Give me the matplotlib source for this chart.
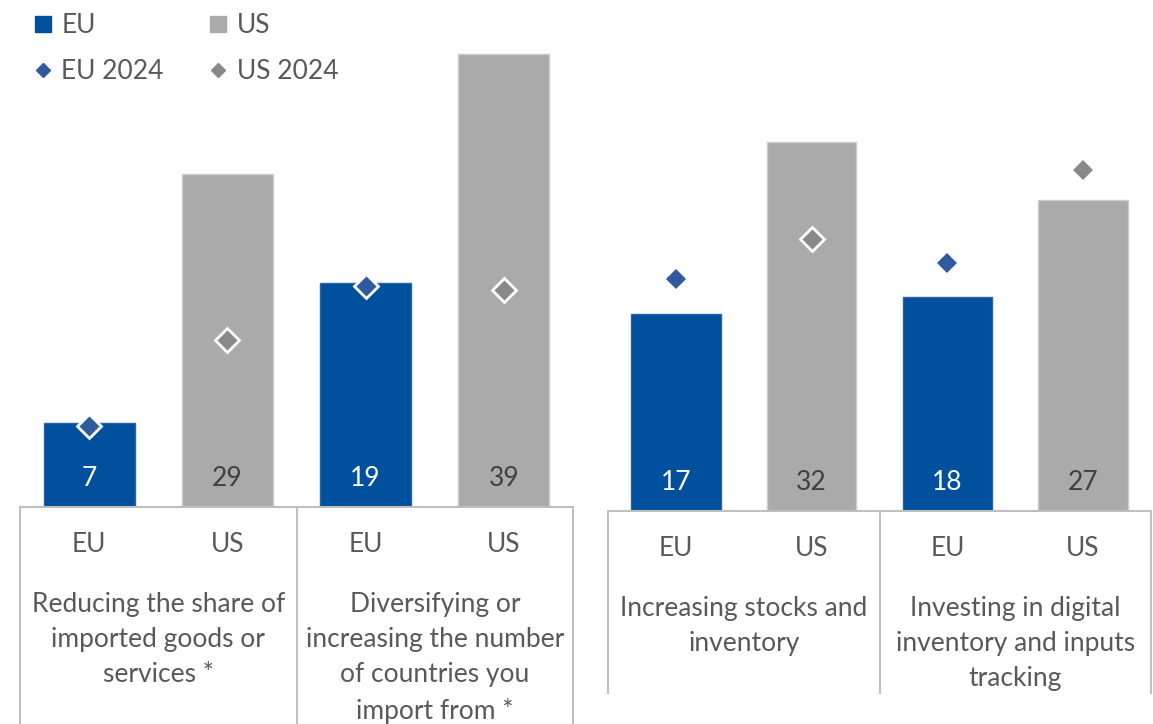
import matplotlib.pyplot as plt
from matplotlib.lines import Line2D

# values (bar heights as drawn, labels as printed)
groups = ['EU', 'US', 'EU', 'US']
left_bars = [7.3, 28.8, 19.4, 39.2]
left_labels = [7, 29, 19, 39]
left_2024 = [7.0, 14.5, 19.1, 18.8]
right_bars = [17.1, 32.0, 18.6, 27.0]
right_labels = [17, 32, 18, 27]
right_2024 = [20.1, 23.6, 21.5, 29.6]
left_cats = ['Reducing the share of\nimported goods or\nservices *',
             'Diversifying or\nincreasing the number\nof countries you\nimport from *']
right_cats = ['Increasing stocks and\ninventory',
              'Investing in digital\ninventory and inputs\ntracking']

eu_col = '#00509E'
us_col = '#AAAAAA'
eu_dia = '#2F5A9E'
us_dia = '#898989'
txt_col = '#595959'
line_col = '#BFBFBF'
font = 'Lato'
fs = 19

W, H = 1153, 724
fig = plt.figure(figsize=(W / 100, H / 100), dpi=100)


def panel(x0, x1, base, pxu, bars, labels, vals24, cats, bottom_px):
    ax = fig.add_axes([x0 / W, (H - base) / H, (x1 - x0) / W, base / H])
    ax.set_xlim(-0.5, 3.5)
    ax.set_ylim(0, base / pxu)
    for s in ['top', 'left', 'right']:
        ax.spines[s].set_visible(False)
    ax.spines['bottom'].set_color(line_col)
    ax.spines['bottom'].set_linewidth(1.5)
    ax.set_xticks([])
    ax.set_yticks([])
    xs = range(len(bars))
    cols = [eu_col if g == 'EU' else us_col for g in groups]
    edges = ['#2A64A8' if g == 'EU' else '#CCCCCC' for g in groups]
    ax.bar(xs, bars, width=0.66, color=cols, edgecolor=edges, linewidth=1)
    for i, (b, v) in enumerate(zip(bars, vals24)):
        dc = eu_dia if groups[i] == 'EU' else us_dia
        if v <= b + 0.5:
            ax.plot(i, v, 'D', ms=12.5, color=dc, mec='white', mew=2, zorder=3)
        else:
            ax.plot(i, v, 'D', ms=10.5, color=dc, mec=dc, mew=0, zorder=3)
        tc = 'white' if groups[i] == 'EU' else '#404040'
        ax.annotate(str(labels[i]), (i, 0), xytext=(0, 28), textcoords='offset pixels',
                    ha='center', va='center', color=tc, fontsize=fs, family=font)
        ax.annotate(groups[i], (i, 0), xytext=(0, -38), textcoords='offset pixels',
                    ha='center', va='center', color=txt_col, fontsize=fs, family=font)
    for k, c in enumerate(cats):
        ax.annotate(c, (0.5 + 2 * k, 0), xytext=(0, -85), textcoords='offset pixels',
                    ha='center', va='top', color=txt_col, fontsize=fs, family=font,
                    linespacing=1.5)
    for xv in [-0.5, 1.5, 3.5]:
        ax.plot([xv, xv], [0, -bottom_px / pxu], color=line_col, lw=1.5, clip_on=False)
    return ax


ax1 = panel(20, 573, 507, 11.55, left_bars, left_labels, left_2024, left_cats, 220)
ax2 = panel(608, 1151, 511, 11.53, right_bars, right_labels, right_2024, right_cats, 182)

handles = [
    Line2D([], [], ls='none', marker='s', ms=12, color=eu_col),
    Line2D([], [], ls='none', marker='D', ms=7, color=eu_dia),
    Line2D([], [], ls='none', marker='s', ms=12, color=us_col),
    Line2D([], [], ls='none', marker='D', ms=7, color=us_dia),
]
names = ['EU', 'EU 2024', 'US', 'US 2024']
leg = fig.legend(handles, names, loc='upper left', bbox_to_anchor=(8.5 / W, 1 + 11 / H),
                 ncol=2, frameon=False, handlelength=0.8, handletextpad=0.3,
                 columnspacing=1.67, labelspacing=0.82,
                 prop={'family': font, 'size': fs})
for t in leg.get_texts():
    t.set_color(txt_col)

fig.savefig('out.png', dpi=100)
